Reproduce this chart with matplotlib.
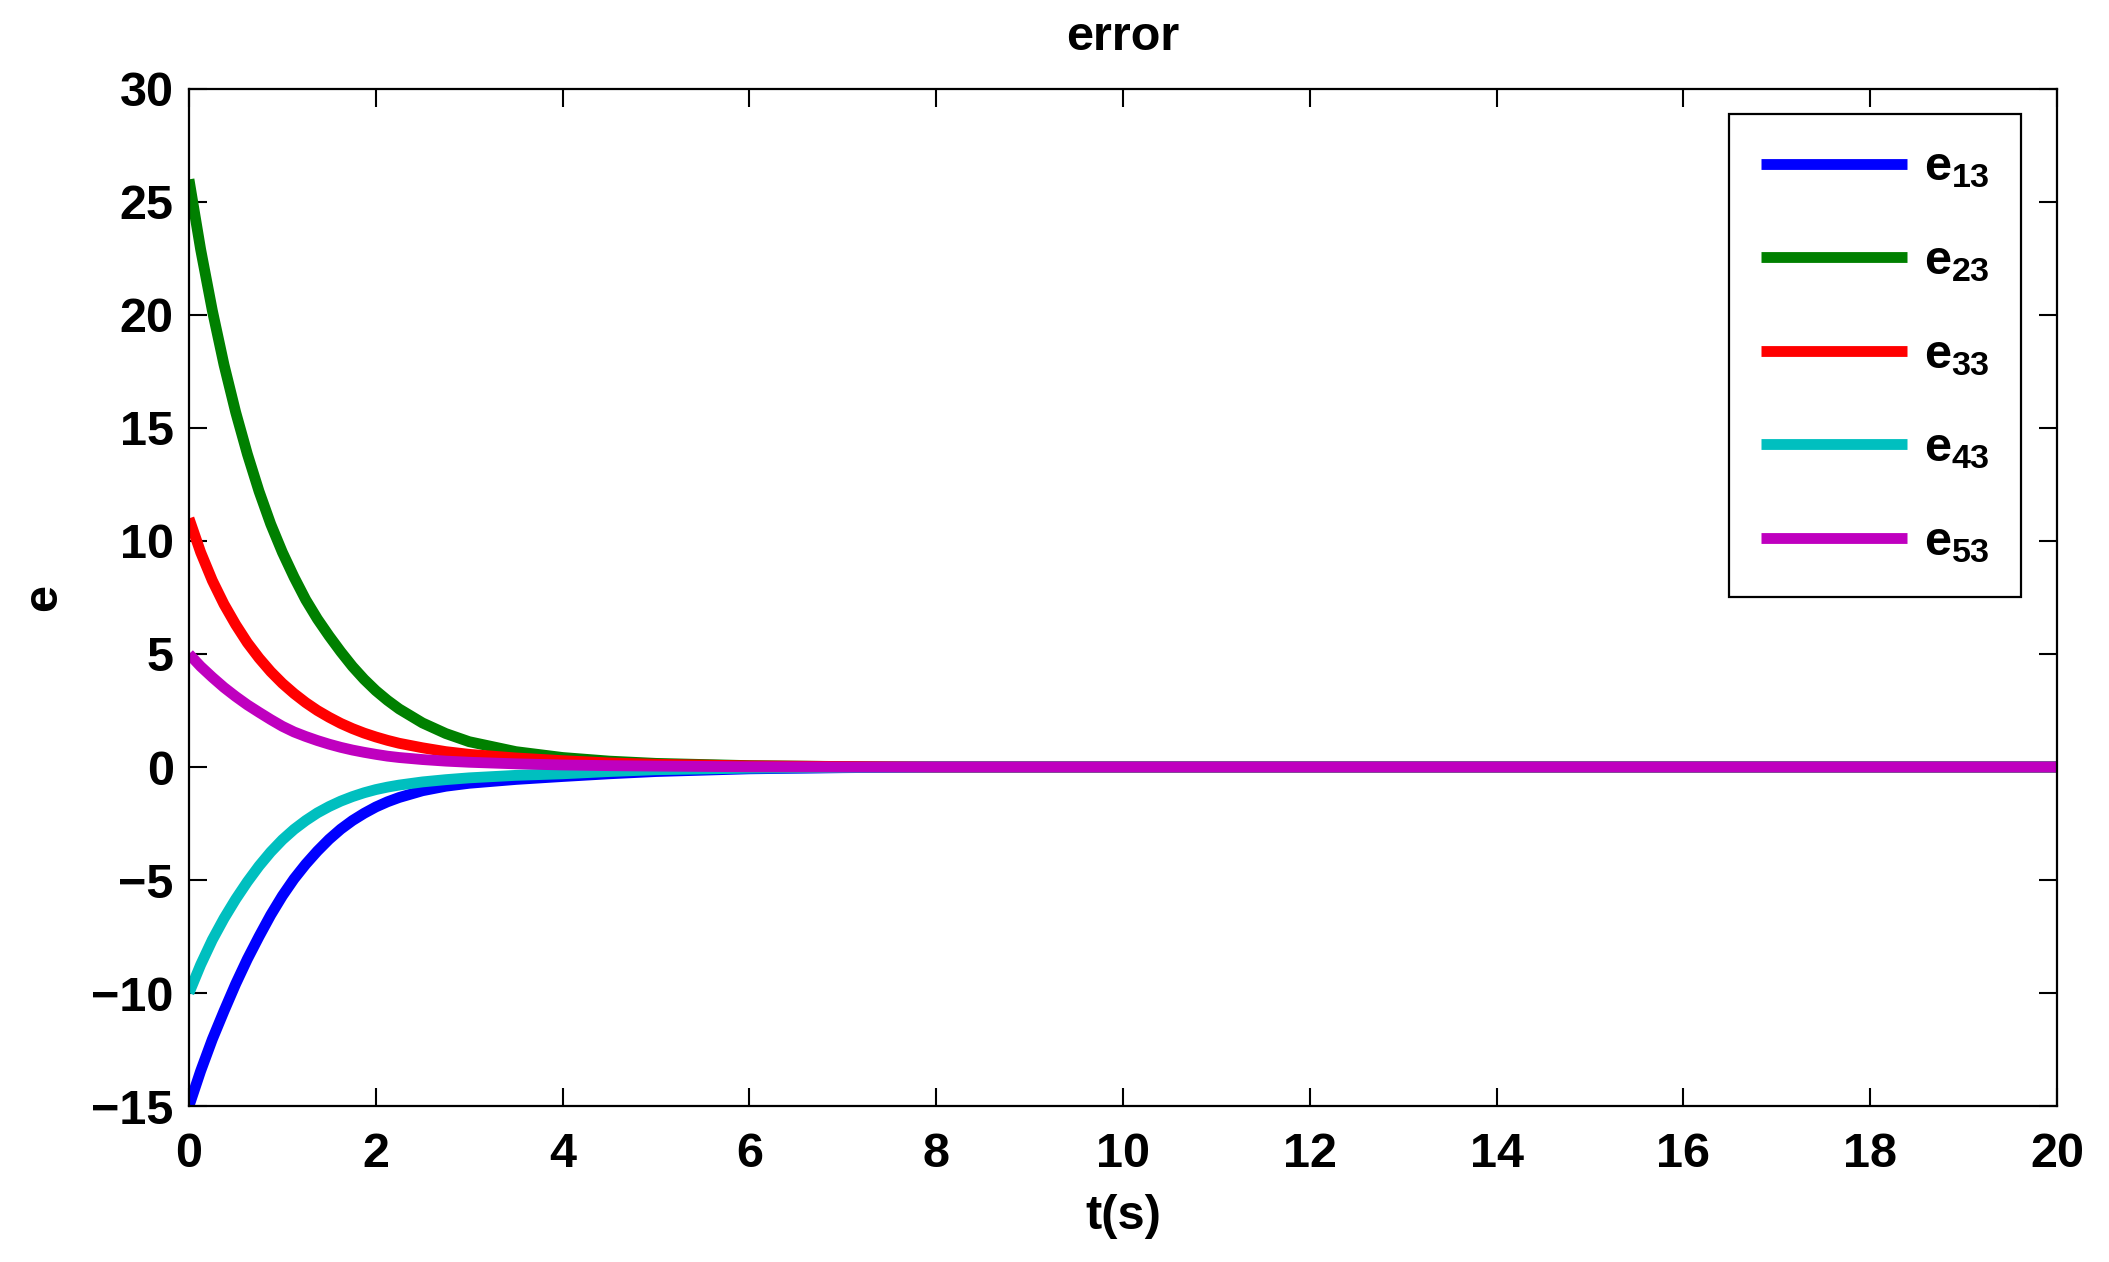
import numpy as np
import matplotlib
matplotlib.use("Agg")
import matplotlib.pyplot as plt

# values
t = [0, 0.125, 0.25, 0.375, 0.5, 0.625, 0.75, 0.875, 1.0, 1.125,
     1.25, 1.375, 1.5, 1.625, 1.75, 1.875, 2.0, 2.125, 2.25, 2.5,
     2.75, 3.0, 3.5, 4.0, 4.5, 5.0, 6.0, 7.0, 8.0, 20.0]
e13 = [-15.0, -13.45, -12.05, -10.8, -9.6, -8.5, -7.5, -6.55, -5.7, -4.95,
       -4.3, -3.72, -3.2, -2.75, -2.37, -2.05, -1.77, -1.54, -1.35, -1.05,
       -0.85, -0.72, -0.55, -0.42, -0.3, -0.2, -0.08, -0.03, 0.0, 0.0]
e23 = [26.0, 22.9, 20.2, 17.8, 15.7, 13.85, 12.2, 10.75, 9.5, 8.4,
       7.4, 6.55, 5.8, 5.1, 4.45, 3.88, 3.38, 2.95, 2.57, 1.95,
       1.48, 1.12, 0.68, 0.42, 0.26, 0.16, 0.06, 0.02, 0.0, 0.0]
e33 = [11.0, 9.5, 8.25, 7.2, 6.3, 5.5, 4.82, 4.22, 3.7, 3.25,
       2.85, 2.5, 2.2, 1.93, 1.7, 1.5, 1.33, 1.18, 1.05, 0.85,
       0.68, 0.56, 0.4, 0.28, 0.18, 0.12, 0.05, 0.02, 0.0, 0.0]
e43 = [-10.0, -8.75, -7.65, -6.7, -5.85, -5.08, -4.38, -3.76, -3.22, -2.76,
       -2.37, -2.03, -1.75, -1.51, -1.31, -1.14, -1.0, -0.89, -0.8, -0.66,
       -0.56, -0.48, -0.37, -0.3, -0.2, -0.12, -0.05, -0.02, 0.0, 0.0]
e53 = [5.0, 4.45, 3.97, 3.52, 3.12, 2.75, 2.42, 2.1, 1.8, 1.55,
       1.35, 1.17, 1.01, 0.87, 0.75, 0.65, 0.56, 0.48, 0.42, 0.33,
       0.26, 0.21, 0.14, 0.09, 0.06, 0.04, 0.01, 0.0, 0.0, 0.0]

series = [e13, e23, e33, e43, e53]
labels = [r"$e_{13}$", r"$e_{23}$", r"$e_{33}$", r"$e_{43}$", r"$e_{53}$"]
colors = ["#0000ff", "#008000", "#ff0000", "#00bfbf", "#bf00bf"]

xticks = np.arange(0, 21, 2)
yticks = np.arange(-15, 31, 5)

plt.rcParams["font.family"] = ["Liberation Sans", "DejaVu Sans"]
plt.rcParams["font.weight"] = "bold"
plt.rcParams["mathtext.fontset"] = "custom"
plt.rcParams["mathtext.rm"] = "Liberation Sans:bold"
plt.rcParams["mathtext.it"] = "Liberation Sans:bold"
plt.rcParams["mathtext.bf"] = "Liberation Sans:bold"

fs = 35

fig = plt.figure(figsize=(21.09, 12.62), dpi=100)
ax = fig.add_axes([0.0896, 0.1236, 0.8858, 0.8059])

for y, lab, c in zip(series, labels, colors):
    ax.plot(t, y, color=c, lw=7.8, label=lab,
            solid_joinstyle="round", solid_capstyle="butt")

ax.set_xlim(0, 20)
ax.set_ylim(-15, 30)
ax.set_xticks(xticks)
ax.set_yticks(yticks)
ax.tick_params(direction="in", length=13, width=1.5, top=True, right=True,
               labelsize=fs)
ax.tick_params(axis="x", pad=19)
ax.tick_params(axis="y", pad=11)
for s in ax.spines.values():
    s.set_linewidth(1.6)

ax.set_title("error", fontsize=fs, fontweight="bold", pad=28)
ax.set_xlabel("t(s)", fontsize=fs, fontweight="bold", labelpad=12)
ax.set_ylabel("e", fontsize=fs, fontweight="bold", labelpad=18)

leg = ax.legend(loc="upper right", bbox_to_anchor=(2021 / 2109, 1 - 114 / 1262),
                bbox_transform=fig.transFigure, borderaxespad=0, fontsize=fs,
                handlelength=3.0, handletextpad=0.35, labelspacing=1.0,
                borderpad=0.65, fancybox=False, framealpha=1)
leg.get_frame().set_edgecolor("black")
leg.get_frame().set_linewidth(1.6)
for h in leg.get_lines():
    h.set_linewidth(7.8)

fig.savefig("out.png", dpi=100)
